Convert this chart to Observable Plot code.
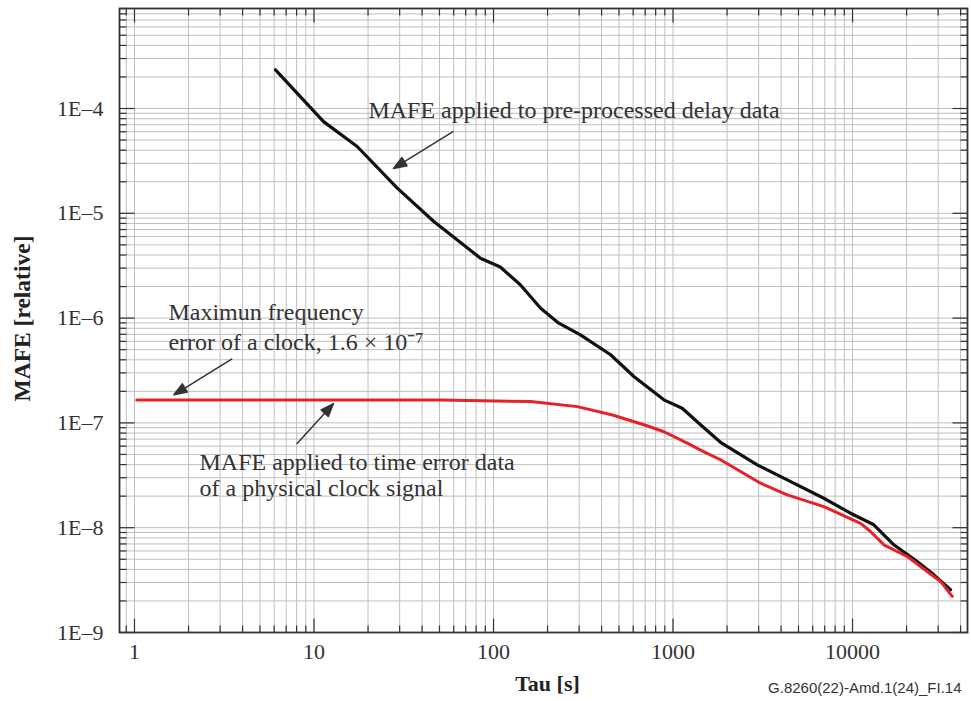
<!DOCTYPE html>
<html><head><meta charset="utf-8">
<script src="https://cdn.jsdelivr.net/npm/d3@7"></script>
<script src="https://cdn.jsdelivr.net/npm/@observablehq/plot@0.6"></script>
<style>html,body{margin:0;padding:0;background:#fff;}</style>
</head><body><div id="chart"></div>
<script>
// ---- data ----
const blackTau  = [6.1, 11.3, 17.4, 29.1, 46.5, 84.6, 109, 141, 183, 231, 305, 449, 605, 889, 1125, 1423, 1839, 2944, 4327, 6918, 9747, 13140, 16990, 22930, 28380, 35160];
const blackMafe = [2.34e-4, 7.5e-5, 4.34e-5, 1.74e-5, 8.36e-6, 3.73e-6, 3.07e-6, 2.08e-6, 1.24e-6, 8.94e-7, 6.93e-7, 4.47e-7, 2.77e-7, 1.66e-7, 1.38e-7, 9.6e-8, 6.53e-8, 3.98e-8, 2.86e-8, 1.91e-8, 1.375e-8, 1.066e-8, 6.87e-9, 4.76e-9, 3.55e-9, 2.56e-9];
const redTau  = [1.03, 50.7, 161, 293, 460, 688, 885, 1200, 1479, 1839, 3073, 4327, 6918, 11080, 12600, 14940, 20170, 26080, 30930, 35930];
const redMafe = [1.65e-7, 1.65e-7, 1.6e-7, 1.43e-7, 1.19e-7, 9.6e-8, 8.28e-8, 6.4e-8, 5.33e-8, 4.45e-8, 2.66e-8, 2.06e-8, 1.59e-8, 1.1e-8, 9.2e-9, 6.87e-9, 5.31e-9, 3.82e-9, 3.07e-9, 2.21e-9];

const xTickValues = [1, 10, 100, 1000, 10000];
const xTickLabels = ["1", "10", "100", "1000", "10000"];
const yTickValues = [1e-9, 1e-8, 1e-7, 1e-6, 1e-5, 1e-4];
const yTickLabels = ["1E–9", "1E–8", "1E–7", "1E–6", "1E–5", "1E–4"];

const xLabel = "Tau [s]";
const yLabel = "MAFE [relative]";
const figureId = "G.8260(22)-Amd.1(24)_FI.14";

// annotation text lines (anchored at left / middle)
const annoText = [
  "MAFE applied to pre-processed delay data",
  "Maximun frequency",
  "error of a clock, 1.6 × 10⁻⁷",
  "MAFE applied to time error data",
  "of a physical clock signal"
];
const annoTau  = [20.1, 1.546, 1.546, 2.302, 2.302];
const annoMafe = [9.57e-5, 1.13e-6, 5.85e-7, 4.19e-8, 2.37e-8];

// annotation arrows (tip position, length in px, direction in degrees)
const arrowTau   = [27.7, 1.656, 12.84];
const arrowMafe  = [2.68e-5, 1.853e-7, 1.53e-7];
const arrowLen   = [70, 68, 54];
const arrowAngle = [238.3, 238.3, 42.4];

// ---- tick positions for the log scales ----
const xMinor = [], yMinor = [];
for (let k = -1; k <= 4; k++) for (let m = 2; m <= 9; m++) {
  const v = m * Math.pow(10, k);
  if (v >= 0.85 && v <= 43000) xMinor.push(v);
}
for (let k = -9; k <= -4; k++) for (let m = 2; m <= 9; m++) {
  const v = m * Math.pow(10, k);
  if (v <= 9.5e-4) yMinor.push(v);
}
const xAll = xTickValues.concat(xMinor);
const yAll = yTickValues.concat(yMinor);

const tickShape = {draw(context, l) { context.moveTo(0, 0); context.lineTo(0, -l); }};
const arrowShape = {draw(context, l) {
  const h = 13, w = 4.8;
  context.moveTo(0, 0); context.lineTo(0, -(l - h + 1));
  context.moveTo(0, -l); context.lineTo(-w, -l + h); context.lineTo(w, -l + h); context.closePath();
}};

const tickStyle = {stroke: "#333", strokeWidth: 1.2, shape: tickShape, anchor: "start", strokeLinecap: "butt"};
const xLabelMap = new Map(xTickValues.map((v, i) => [v, xTickLabels[i]]));
const yLabelMap = new Map(yTickValues.map((v, i) => [v, yTickLabels[i]]));

const arrowMarks = arrowLen.map((len, i) =>
  Plot.vector([i], {x: [arrowTau[i]], y: [arrowMafe[i]], length: len, rotate: arrowAngle[i], anchor: "end",
    shape: arrowShape, stroke: "#333", fill: "#333", strokeWidth: 1.5})
);

const chart = Plot.plot({
  width: 971,
  height: 701,
  marginLeft: 119,
  marginRight: 4,
  marginTop: 8,
  marginBottom: 69,
  style: {fontFamily: "'Liberation Serif', 'Times New Roman', serif", fontSize: "22px", color: "#333", background: "#fff"},
  x: {type: "log", domain: [0.825, 43700]},
  y: {type: "log", domain: [1e-9, 9e-4]},
  marks: [
    Plot.gridX(xAll, {stroke: "#bfbfbf", strokeOpacity: 1, strokeWidth: 1}),
    Plot.gridY(yAll, {stroke: "#bfbfbf", strokeOpacity: 1, strokeWidth: 1}),
    // inward ticks on all four sides
    Plot.vector(xTickValues, {x: d => d, frameAnchor: "bottom", length: 14, rotate: 0, ...tickStyle}),
    Plot.vector(xMinor, {x: d => d, frameAnchor: "bottom", length: 7, rotate: 0, ...tickStyle}),
    Plot.vector(xTickValues, {x: d => d, frameAnchor: "top", length: 14, rotate: 180, ...tickStyle}),
    Plot.vector(xMinor, {x: d => d, frameAnchor: "top", length: 7, rotate: 180, ...tickStyle}),
    Plot.vector(yTickValues, {y: d => d, frameAnchor: "left", length: 15, rotate: 90, ...tickStyle}),
    Plot.vector(yMinor, {y: d => d, frameAnchor: "left", length: 7, rotate: 90, ...tickStyle}),
    Plot.vector(yTickValues, {y: d => d, frameAnchor: "right", length: 15, rotate: 270, ...tickStyle}),
    Plot.vector(yMinor, {y: d => d, frameAnchor: "right", length: 7, rotate: 270, ...tickStyle}),
    Plot.frame({stroke: "#333", strokeWidth: 1.8}),
    Plot.axisX({ticks: xTickValues, tickFormat: d => xLabelMap.get(d), tickSize: 0, tickPadding: 11, label: null, fontSize: 22, fill: "#333"}),
    Plot.axisY({ticks: yTickValues, tickFormat: d => yLabelMap.get(d), tickSize: 0, tickPadding: 16, label: null, fontSize: 22, fill: "#333"}),
    // curves
    Plot.line(blackMafe, {x: blackTau, y: blackMafe, stroke: "#111", strokeWidth: 3.2, curve: "linear", strokeLinejoin: "round"}),
    Plot.line(redMafe, {x: redTau, y: redMafe, stroke: "#e8202a", strokeWidth: 3, curve: "linear", strokeLinejoin: "round"}),
    // annotations
    Plot.text(annoText, {x: annoTau, y: annoMafe, text: annoText, textAnchor: "start", lineAnchor: "middle", fontSize: 24, fill: "#333"}),
    ...arrowMarks,
    // axis titles and figure id
    Plot.text([xLabel], {frameAnchor: "bottom", textAnchor: "middle", dx: 4, dy: 51, fontWeight: "bold", fontSize: 22, fill: "#222", lineAnchor: "middle"}),
    Plot.text([yLabel], {frameAnchor: "left", textAnchor: "middle", dx: -97, dy: -2, rotate: -90, fontWeight: "bold", fontSize: 23.5, fill: "#222", lineAnchor: "middle"}),
    Plot.text([figureId], {frameAnchor: "bottom-right", dx: -6, dy: 56, textAnchor: "end", lineAnchor: "middle", fontSize: 15, fontFamily: "'Liberation Sans', Arial, sans-serif", fill: "#333"})
  ]
});
document.getElementById("chart").appendChild(chart);
</script>
</body></html>
